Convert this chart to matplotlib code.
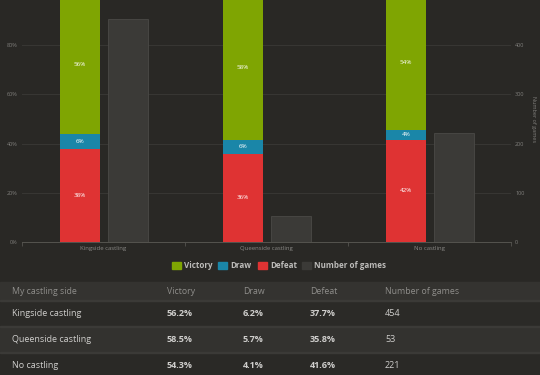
import matplotlib
matplotlib.use("Agg")
import matplotlib.pyplot as plt
from matplotlib.patches import Rectangle
import numpy as np

plt.rcParams["font.family"] = ["Open Sans", "DejaVu Sans"]

categorias = ["Kingside castling", "Queenside castling", "No castling"]
victory = [56.2, 58.5, 54.3]
draw = [6.2, 5.7, 4.1]
defeat = [37.7, 35.8, 41.6]
num_games = [454, 53, 221]

cor_fundo = "#292825"
cor_verde = "#7fa502"
cor_azul = "#1a86a8"
cor_vermelho = "#df3333"
cor_cinza = "#3b3a37"
cor_texto = "#bdbcba"

W, H = 540, 375
fig = plt.figure(figsize=(W / 100, H / 100), dpi=100, facecolor=cor_fundo)

# eixo principal em pixels -> fracao
x0, x1 = 22, 511
y0, y1 = 242, -4
ax = fig.add_axes([x0 / W, 1 - y0 / H, (x1 - x0) / W, (y0 - y1) / H])
ax.set_facecolor(cor_fundo)
ax2 = ax.twinx()

x = np.arange(len(categorias))
larg = 0.245
off_stack = -0.145
off_games = 0.152

ax.bar(x + off_stack, defeat, larg, color=cor_vermelho, zorder=3)
ax.bar(x + off_stack, draw, larg, bottom=defeat, color=cor_azul, zorder=3)
base_v = [d + e for d, e in zip(defeat, draw)]
ax.bar(x + off_stack, victory, larg, bottom=base_v, color=cor_verde, zorder=3)

ax2.bar(x + off_games, num_games, larg, color=cor_cinza, edgecolor="#4a4946",
        linewidth=0.6, zorder=3)

for i in range(len(categorias)):
    ax.text(x[i] + off_stack, defeat[i] / 2, f"{round(defeat[i])}%", ha="center",
            va="center", fontsize=4.5, color="white", zorder=5)
    ax.text(x[i] + off_stack, defeat[i] + draw[i] / 2, f"{round(draw[i])}%", ha="center",
            va="center", fontsize=4.5, color="white", zorder=5)
    ax.text(x[i] + off_stack, base_v[i] + victory[i] / 2, f"{round(victory[i])}%",
            ha="center", va="center", fontsize=4.5, color="white", zorder=5)

ax.set_xlim(-0.5, 2.5)
ax.set_ylim(0, 100)
ax2.set_ylim(0, 500)
ax.set_yticks([0, 20, 40, 60, 80])
ax.set_yticklabels(["0%", "20%", "40%", "60%", "80%"])
ax2.set_yticks([0, 100, 200, 300, 400])
ax.grid(axis="y", color="#383734", linewidth=0.7, zorder=0)
ax.set_axisbelow(True)

for a in (ax, ax2):
    for s in a.spines.values():
        s.set_visible(False)
    a.tick_params(axis="y", length=0, labelsize=4, colors="#7f7e7b", pad=3)
ax.spines["bottom"].set_visible(True)
ax.spines["bottom"].set_color("#55544f")
ax.spines["bottom"].set_linewidth(0.7)
ax.set_xticks(x)
ax.set_xticklabels(categorias)
ax.set_xticks([-0.5, 0.5, 1.5, 2.5], minor=True)
ax.tick_params(axis="x", which="major", length=0, labelsize=4.3, colors="#8a8986", pad=3)
ax.tick_params(axis="x", which="minor", length=3, color="#55544f", width=0.6)
ax2.set_ylabel("Number of games", fontsize=4, color="#7f7e7b", rotation=270, labelpad=8)

# legenda
leg_items = [("Victory", cor_verde, 172), ("Draw", cor_azul, 218),
             ("Defeat", cor_vermelho, 258), ("Number of games", cor_cinza, 302)]
for nome, cor, px in leg_items:
    fig.patches.append(Rectangle((px / W, 1 - 269 / H), 9 / W, 7 / H,
                                 transform=fig.transFigure, color=cor))
    fig.text((px + 12) / W, 1 - 265.5 / H, nome, fontsize=5.8, fontweight="bold",
             color=cor_texto, va="center", ha="left")

# tabela
linhas = [(282, 301, "#343330"), (301, 327, "#2b2a27"), (327, 353, "#33322f"), (353, 375, "#2a2926")]
for ya, yb, cor in linhas:
    fig.patches.append(Rectangle((0, 1 - yb / H), 1, (yb - ya) / H,
                                 transform=fig.transFigure, color=cor, zorder=0))
for yl in (301, 327, 353):
    fig.patches.append(Rectangle((0, 1 - yl / H), 1, 1.2 / H, transform=fig.transFigure,
                                 color="#3b3a37", zorder=1))

cols_x = [12, 167, 243, 310, 385]
cab = ["My castling side", "Victory", "Draw", "Defeat", "Number of games"]
for cx, t in zip(cols_x, cab):
    fig.text(cx / W, 1 - 292 / H, t, fontsize=6.3, color="#8f8e8b", va="center", ha="left")

linhas_y = [314, 340, 366]
for i, cy in enumerate(linhas_y):
    vals = [categorias[i], f"{victory[i]}%", f"{draw[i]}%", f"{defeat[i]}%", str(num_games[i])]
    for j, (cx, t) in enumerate(zip(cols_x, vals)):
        peso = "bold" if j in (1, 2, 3) else "normal"
        fig.text(cx / W, 1 - cy / H, t, fontsize=6.5, color="#cfcecc", fontweight=peso,
                 va="center", ha="left")

fig.savefig("out.png", dpi=100, facecolor=cor_fundo)
